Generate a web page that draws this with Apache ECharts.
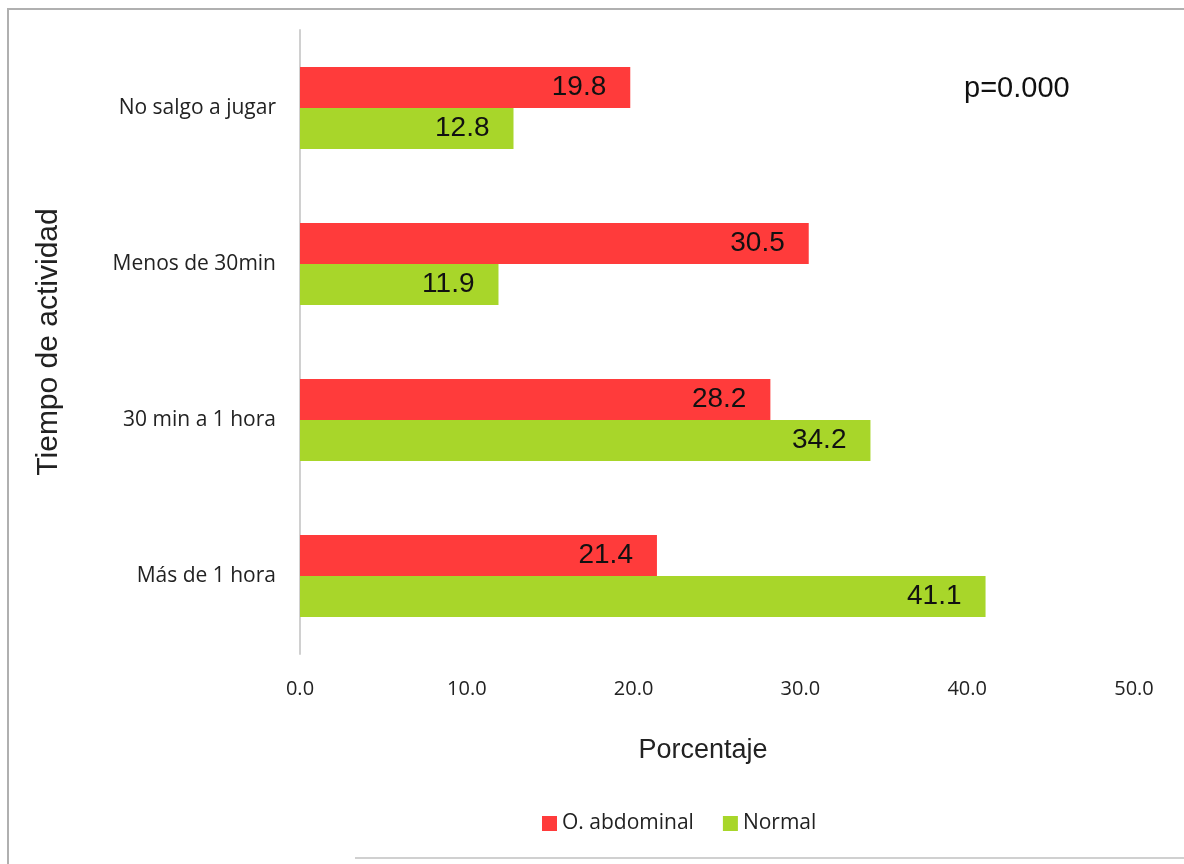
<!DOCTYPE html>
<html>
<head>
<meta charset="utf-8">
<script src="https://cdn.jsdelivr.net/npm/echarts@6/dist/echarts.min.js"></script>
<style>
  html, body { margin: 0; padding: 0; background: #fff; }
  #chart { width: 1184px; height: 864px; }
</style>
</head>
<body>
<div id="chart"></div>
<script>
// Tiempo de actividad física por estado nutricional (porcentaje)
const categories = ['No salgo a jugar', 'Menos de 30min', '30 min a 1 hora', 'Más de 1 hora'];
const seriesNames = ['O. abdominal', 'Normal'];
const obesidadAbdominal = [19.8, 30.5, 28.2, 21.4];
const normal = [12.8, 11.9, 34.2, 41.1];
const xTicks = [0, 10, 20, 30, 40, 50];

const RED = '#FF3B3B';
const GREEN = '#A8D62A';

const chart = echarts.init(document.getElementById('chart'));

const labelStyle = {
  show: true,
  position: 'insideRight',
  distance: 24,
  color: '#111',
  fontFamily: '"Liberation Sans Narrow", "Liberation Sans", Arial',
  fontSize: 28,
  formatter: p => p.value.toFixed(1)
};

chart.setOption({
  backgroundColor: '#fff',
  animation: false,
  grid: { left: 300, right: 50, top: 30, bottom: 210, containLabel: false },
  legend: {
    top: 808,
    left: 537,
    itemWidth: 15,
    itemHeight: 15,
    itemGap: 29,
    icon: 'rect',
    textStyle: { fontFamily: '"Open Sans", "Liberation Sans"', fontSize: 21, color: '#222' },
    data: seriesNames
  },
  xAxis: {
    type: 'value',
    min: xTicks[0],
    max: xTicks[xTicks.length - 1],
    interval: 10,
    name: 'Porcentaje',
    nameLocation: 'middle',
    nameGap: 83,
    nameTextStyle: {
      fontFamily: '"Liberation Sans", Arial',
      fontSize: 27,
      color: '#222',
      padding: [0, 28, 0, 0]
    },
    axisLine: { show: false },
    axisTick: { show: false },
    splitLine: { show: false },
    axisLabel: {
      margin: 25,
      fontFamily: '"Open Sans", "Liberation Sans"',
      fontSize: 20,
      color: '#222',
      formatter: v => v.toFixed(1)
    }
  },
  yAxis: {
    type: 'category',
    data: categories,
    inverse: true,
    name: 'Tiempo de actividad',
    nameLocation: 'middle',
    nameGap: 236,
    nameRotate: 90,
    nameTextStyle: { fontFamily: '"Liberation Sans", Arial', fontSize: 30, color: '#222' },
    axisLine: { show: true, lineStyle: { color: '#d0d0d0', width: 2 } },
    axisTick: { show: false },
    splitLine: { show: false },
    axisLabel: {
      margin: 24,
      fontFamily: '"Open Sans", "Liberation Sans"',
      fontSize: 21,
      color: '#222'
    }
  },
  series: [
    {
      name: seriesNames[0],
      type: 'bar',
      data: obesidadAbdominal,
      itemStyle: { color: RED },
      barWidth: 41,
      barGap: '0%',
      label: labelStyle
    },
    {
      name: seriesNames[1],
      type: 'bar',
      data: normal,
      itemStyle: { color: GREEN },
      barWidth: 41,
      barGap: '0%',
      label: labelStyle
    }
  ],
  graphic: [
    {
      type: 'text',
      left: 964,
      top: 74,
      style: { text: 'p=0.000', font: '29px "Liberation Sans", Arial', fill: '#111' }
    },
    {
      type: 'polyline',
      shape: { points: [[8, 864], [8, 9], [1184, 9]] },
      style: { stroke: '#b0b0b0', lineWidth: 2, fill: null }
    },
    {
      type: 'line',
      shape: { x1: 355, y1: 858, x2: 1184, y2: 858 },
      style: { stroke: '#d0d0d0', lineWidth: 2 }
    }
  ]
});
</script>
</body>
</html>
